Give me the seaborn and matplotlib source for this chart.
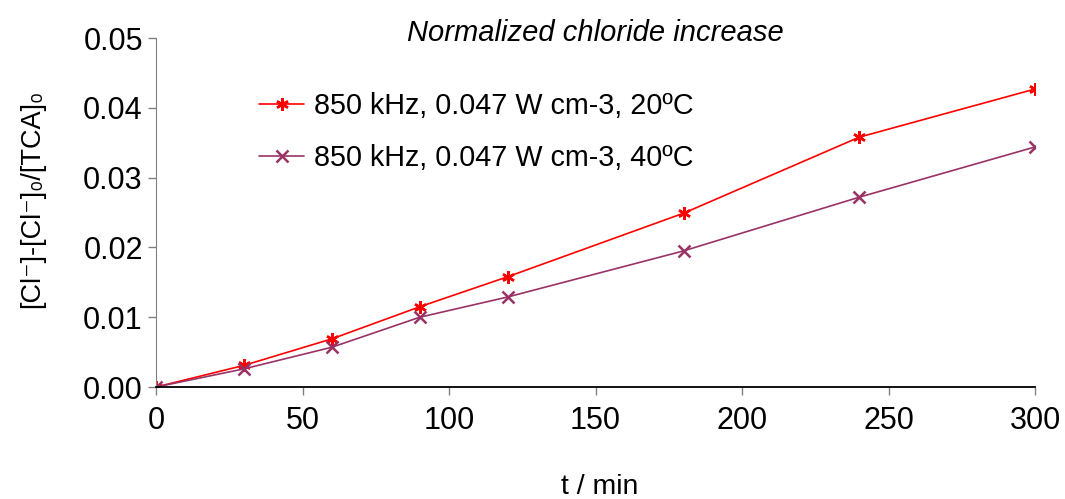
import matplotlib
matplotlib.use("Agg")
import matplotlib.pyplot as plt
import seaborn as sns
import numpy as np
import pandas as pd

sns.set_style("white")
plt.rcParams['font.family'] = ['Liberation Sans', 'DejaVu Sans']
plt.rcParams['text.color'] = 'black'
plt.rcParams['xtick.color'] = 'black'
plt.rcParams['ytick.color'] = 'black'
plt.rcParams['axes.labelcolor'] = 'black'

# data
t_min = [0, 30, 60, 90, 120, 180, 240, 300]
cl_20C = [0.0, 0.0031, 0.0069, 0.0115, 0.0158, 0.0249, 0.0358, 0.0427]
cl_40C = [0.0, 0.0026, 0.0057, 0.0100, 0.0129, 0.0195, 0.0272, 0.0344]
label_20C = "850 kHz, 0.047 W cm-3, 20ºC"
label_40C = "850 kHz, 0.047 W cm-3, 40ºC"

df = pd.DataFrame({
    't': t_min * 2,
    'value': cl_20C + cl_40C,
    'series': [label_20C] * len(t_min) + [label_40C] * len(t_min),
})

fig, ax = plt.subplots(figsize=(10.65, 4.99), dpi=100)
fig.subplots_adjust(left=0.1465, right=0.972, bottom=0.2244, top=0.9238)

sns.lineplot(
    data=df, x='t', y='value', hue='series', style='series',
    palette={label_20C: '#FF0000', label_40C: '#993366'},
    markers={label_20C: (6, 2, 0), label_40C: 'x'},
    dashes=False, markersize=9, markeredgewidth=1.8, linewidth=1.2, ax=ax,
)
# seaborn paints marker edges white; give them the line colour
for ln in ax.lines:
    ln.set_markeredgecolor(ln.get_color())

ax.set_xlim(0, 300)
ax.set_ylim(0, 0.05)
ax.set_xticks(np.arange(0, 301, 50))
ax.set_yticks(np.arange(0, 0.051, 0.01))
ax.set_yticklabels([f"{v:.2f}" for v in np.arange(0, 0.051, 0.01)])
ax.tick_params(axis='both', labelsize=22, direction='out', length=6, width=1,
               color='#808080', left=True, bottom=True)
ax.tick_params(axis='x', pad=8)

for s in ['top', 'right']:
    ax.spines[s].set_visible(False)
ax.spines['left'].set_color('#808080')
ax.spines['bottom'].set_color('black')
ax.spines['bottom'].set_linewidth(1.3)

ax.set_xlabel("t / min", fontsize=20.5)
ax.xaxis.set_label_coords(0.505, -0.25)
ax.set_ylabel("[Cl⁻]-[Cl⁻]₀/[TCA]₀", fontsize=19.5)
ax.yaxis.set_label_coords(-0.126, 0.54)
ax.set_title("Normalized chloride increase", fontsize=21, style='italic', pad=-2)

leg = ax.legend(loc='upper left', bbox_to_anchor=(0.088, 0.92), frameon=False,
                fontsize=20.7, handlelength=1.55, handletextpad=0.35, labelspacing=0.85)
for h in leg.get_lines():
    h.set_markeredgecolor(h.get_color())

plt.savefig("out.png", dpi=100)
plt.close()
